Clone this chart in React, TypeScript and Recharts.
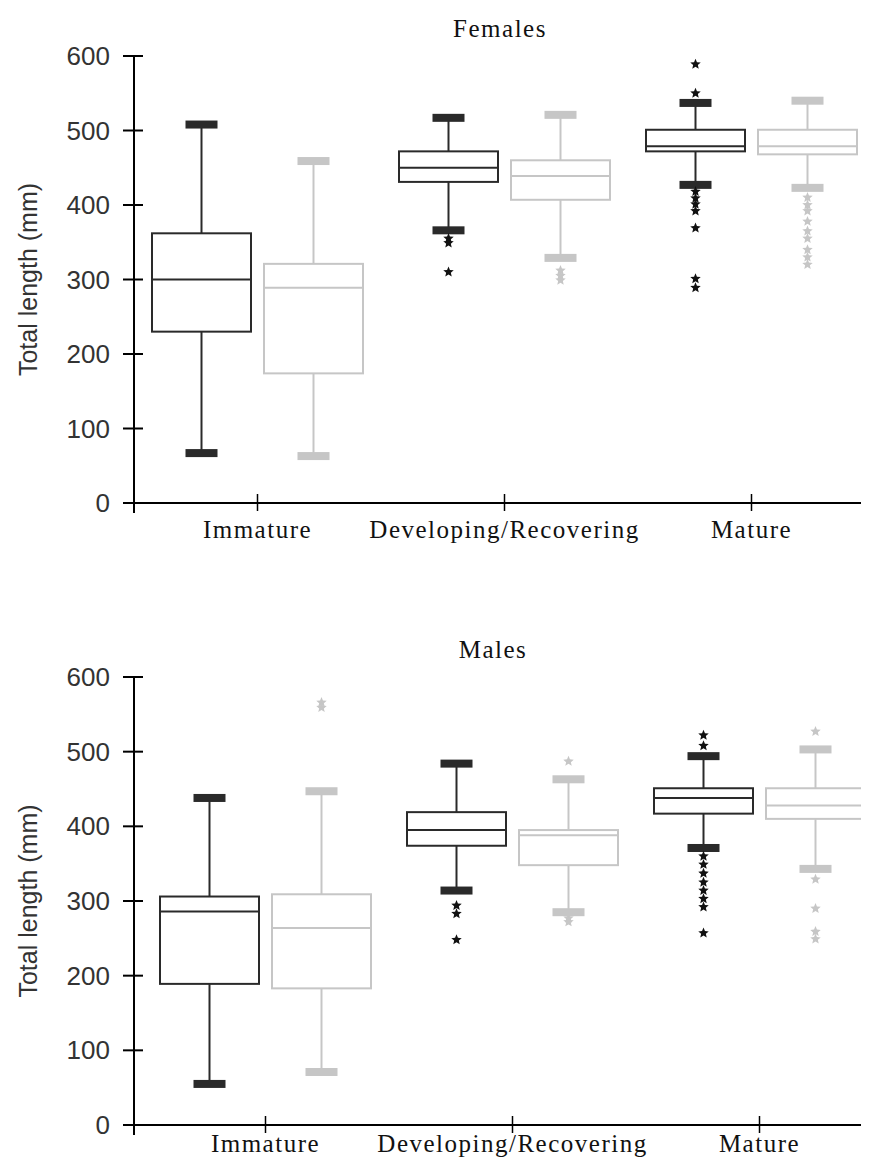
import React from 'react';
import { Bar, ComposedChart, Label, XAxis, YAxis } from 'recharts';

const categories = ['Immature', 'Developing/Recovering', 'Mature'];
const yTicks = [0, 100, 200, 300, 400, 500, 600];

// Females - dark boxes
const femaleDarkLow = [67, 366, 427];
const femaleDarkQ1 = [230, 431, 472];
const femaleDarkMedian = [300, 450, 479];
const femaleDarkQ3 = [362, 472, 501];
const femaleDarkHigh = [508, 517, 537];
const femaleDarkOutliers = [[], [355, 349, 310], [589, 550, 418, 409, 401, 392, 369, 301, 289]];

// Females - light boxes
const femaleLightLow = [63, 329, 423];
const femaleLightQ1 = [174, 407, 468];
const femaleLightMedian = [289, 439, 479];
const femaleLightQ3 = [321, 460, 501];
const femaleLightHigh = [459, 521, 540];
const femaleLightOutliers = [[], [312, 305, 299], [410, 400, 392, 378, 365, 355, 340, 330, 320]];

// Males - dark boxes
const maleDarkLow = [55, 314, 371];
const maleDarkQ1 = [189, 374, 417];
const maleDarkMedian = [286, 395, 438];
const maleDarkQ3 = [306, 419, 451];
const maleDarkHigh = [438, 484, 494];
const maleDarkOutliers = [[], [294, 283, 248], [522, 508, 360, 349, 337, 325, 314, 303, 292, 257]];

// Males - light boxes
const maleLightLow = [71, 285, 343];
const maleLightQ1 = [183, 348, 410];
const maleLightMedian = [264, 388, 428];
const maleLightQ3 = [309, 395, 451];
const maleLightHigh = [447, 463, 503];
const maleLightOutliers = [[566, 559], [487, 277, 272], [527, 329, 290, 259, 249]];

const DARK = '#2a2a2a';
const LIGHT = '#c6c6c6';

type Stats = { low: number; q1: number; median: number; q3: number; high: number; outliers: number[] };

const stats = (low: number[], q1: number[], med: number[], q3: number[], high: number[], out: number[][], i: number): Stats => ({
  low: low[i],
  q1: q1[i],
  median: med[i],
  q3: q3[i],
  high: high[i],
  outliers: out[i],
});

const femaleRows = categories.map((category, i) => ({
  category,
  dark: [femaleDarkLow[i], femaleDarkHigh[i]],
  light: [femaleLightLow[i], femaleLightHigh[i]],
  darkStats: stats(femaleDarkLow, femaleDarkQ1, femaleDarkMedian, femaleDarkQ3, femaleDarkHigh, femaleDarkOutliers, i),
  lightStats: stats(femaleLightLow, femaleLightQ1, femaleLightMedian, femaleLightQ3, femaleLightHigh, femaleLightOutliers, i),
}));

const maleRows = categories.map((category, i) => ({
  category,
  dark: [maleDarkLow[i], maleDarkHigh[i]],
  light: [maleLightLow[i], maleLightHigh[i]],
  darkStats: stats(maleDarkLow, maleDarkQ1, maleDarkMedian, maleDarkQ3, maleDarkHigh, maleDarkOutliers, i),
  lightStats: stats(maleLightLow, maleLightQ1, maleLightMedian, maleLightQ3, maleLightHigh, maleLightOutliers, i),
}));

const starPath = (cx: number, cy: number, r = 5.5) => {
  const pts: string[] = [];
  for (let k = 0; k < 10; k++) {
    const rad = k % 2 === 0 ? r : r * 0.45;
    const a = -Math.PI / 2 + (k * Math.PI) / 5;
    pts.push(`${(cx + rad * Math.cos(a)).toFixed(2)},${(cy + rad * Math.sin(a)).toFixed(2)}`);
  }
  return `M${pts.join('L')}Z`;
};

// draws whole box plot inside the range bar [low cap, high cap]
const boxShape = (side: 'darkStats' | 'lightStats', color: string) => (props: any) => {
  const { x, y, width, height, payload } = props;
  const s: Stats = payload[side];
  const top = Math.min(y, y + height);
  const h = Math.abs(height);
  const per = h / (s.high - s.low);
  const toY = (v: number) => top + (s.high - v) * per;
  const cx = x + width / 2;
  const capW = 32;
  const capH = 8;
  return (
    <g>
      <line x1={cx} x2={cx} y1={toY(s.high)} y2={toY(s.q3)} stroke={color} strokeWidth={2} />
      <line x1={cx} x2={cx} y1={toY(s.q1)} y2={toY(s.low)} stroke={color} strokeWidth={2} />
      <rect x={cx - capW / 2} y={toY(s.high) - capH / 2} width={capW} height={capH} fill={color} />
      <rect x={cx - capW / 2} y={toY(s.low) - capH / 2} width={capW} height={capH} fill={color} />
      <rect x={x} y={toY(s.q3)} width={width} height={toY(s.q1) - toY(s.q3)} fill="#fff" stroke={color} strokeWidth={2} />
      <line x1={x} x2={x + width} y1={toY(s.median)} y2={toY(s.median)} stroke={color} strokeWidth={2} />
      {s.outliers.map((v, k) => (
        <path key={k} d={starPath(cx, toY(v))} fill={color === LIGHT ? LIGHT : '#111'} />
      ))}
    </g>
  );
};

const YTick = (props: any) => {
  const { x, y, payload } = props;
  return (
    <g>
      <line x1={x - 11} x2={x + 9} y1={y} y2={y} stroke="#000" strokeWidth={2} />
      {payload.value === 0 && <line x1={x} x2={x} y1={y} y2={y + 10} stroke="#000" strokeWidth={2} />}
      <text x={x - 24} y={y} dy={9} textAnchor="end" fontFamily="'Liberation Sans', Arial, sans-serif" fontSize={26} fill="#333">
        {payload.value}
      </text>
    </g>
  );
};

const makeXTick = (labelDy: number) => (props: any) => {
  const { x, y, payload } = props;
  return (
    <g>
      <line x1={x} x2={x} y1={y - 9} y2={y + 8} stroke="#000" strokeWidth={1.5} />
      <text x={x} y={y + labelDy} textAnchor="middle" fontFamily="'Liberation Serif', 'Times New Roman', serif" fontSize={25} letterSpacing={1.5} fill="#111">
        {payload.value}
      </text>
    </g>
  );
};

const YLabel = (props: any) => {
  const vb = props.viewBox || {};
  const cy = (vb.y || 0) + (vb.height || 0) / 2;
  return (
    <text transform={`translate(28, ${cy}) rotate(-90)`} textAnchor="middle" dominantBaseline="central" fontFamily="'Liberation Sans', Arial, sans-serif" fontSize={25} fill="#333">
      Total length (mm)
    </text>
  );
};

type PanelProps = { rows: typeof femaleRows; width: number; height: number; top: number; xHeight: number; padLeft: number; labelDy: number };

const Panel: React.FC<PanelProps> = ({ rows, width, height, top, xHeight, padLeft, labelDy }) => {
  const XTick = makeXTick(labelDy);
  return (
    <ComposedChart width={width} height={height} data={rows} margin={{ top, right: 0, bottom: 0, left: 0 }} barSize={99} barGap={13}>
      <XAxis
        dataKey="category"
        height={xHeight}
        tick={<XTick />}
        tickSize={0}
        tickMargin={0}
        axisLine={{ stroke: '#000', strokeWidth: 2 }}
        tickLine={false}
        interval={0}
        padding={{ left: padLeft, right: 0 }}
      />
      <YAxis
        width={134}
        domain={[0, 600]}
        ticks={yTicks}
        tick={<YTick />}
        tickSize={0}
        tickMargin={0}
        tickLine={false}
        axisLine={{ stroke: '#000', strokeWidth: 2 }}
        allowDataOverflow
      >
        <Label content={<YLabel />} />
      </YAxis>
      <Bar dataKey="dark" shape={boxShape('darkStats', DARK)} isAnimationActive={false} />
      <Bar dataKey="light" shape={boxShape('lightStats', LIGHT)} isAnimationActive={false} />
    </ComposedChart>
  );
};

const titleStyle: React.CSSProperties = {
  position: 'absolute',
  transform: 'translateX(-50%)',
  fontFamily: "'Liberation Serif', 'Times New Roman', serif",
  fontSize: 25,
  lineHeight: '25px',
  letterSpacing: 1.5,
  color: '#111',
  whiteSpace: 'nowrap',
};

export default function App() {
  return (
    <div style={{ margin: -8, width: 869, height: 1165, position: 'relative', overflow: 'hidden', background: '#fff' }}>
      <div style={{ position: 'absolute', left: 0, top: 0 }}>
        <Panel rows={femaleRows} width={875} height={560} top={56} xHeight={57} padLeft={0} labelDy={35} />
      </div>
      <div style={{ position: 'absolute', left: 0, top: 620 }}>
        <Panel rows={maleRows} width={883} height={545} top={57} xHeight={40} padLeft={8} labelDy={27} />
      </div>
      <div style={{ ...titleStyle, left: 500, top: 16 }}>Females</div>
      <div style={{ ...titleStyle, left: 493, top: 637 }}>Males</div>
    </div>
  );
}
